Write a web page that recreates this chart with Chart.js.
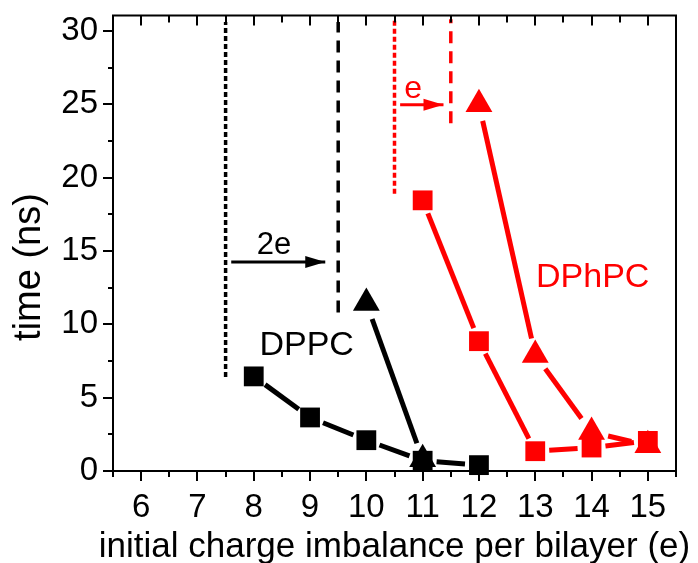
<!DOCTYPE html>
<html>
<head>
<meta charset="utf-8">
<script src="https://cdn.jsdelivr.net/npm/chart.js@4.4.0/dist/chart.umd.min.js"></script>
<style>
    html, body { margin: 0; padding: 0; background: #fff; }
    #wrap { width: 698px; height: 563px; }
</style>
</head>
<body>
<div id="wrap"><canvas id="chart" width="698" height="563"></canvas></div>
<script>
// data
const dppcSquareX = [8, 9, 10, 11, 12];
const dppcSquareY = [6.45, 3.65, 2.1, 0.7, 0.4];
const dppcTriangleX = [10, 11];
const dppcTriangleY = [11.45, 0.8];
const dphpcSquareX = [11, 12, 13, 14, 15];
const dphpcSquareY = [18.45, 8.85, 1.35, 1.6, 2.05];
const dphpcTriangleX = [12, 13, 14, 15];
const dphpcTriangleY = [25.0, 7.9, 2.65, 1.75];

const xTicks = [6, 7, 8, 9, 10, 11, 12, 13, 14, 15];
const yTicks = [0, 5, 10, 15, 20, 25, 30];

// vertical threshold lines: x, from, to
const thresholdX = [7.5, 9.5, 10.5, 11.5];
const thresholdFrom = [6.4, 10.8, 18.9, 23.7];
const thresholdTo = [30.6, 30.6, 30.8, 30.8];

// shift arrows
const arrowStartX = [7.6, 10.6];
const arrowEndX = [9.27, 11.37];
const arrowY = [14.25, 24.97];

const black = '#000000';
const red = '#ff0000';
const fontFamily = '"Liberation Sans", Arial, sans-serif';

const toPoints = (xs, ys) => xs.map((x, i) => ({x: x, y: ys[i]}));

function markerSet(label, xs, ys, color, style) {
    return {
        label: label,
        data: toPoints(xs, ys),
        showLine: false,
        pointStyle: style,
        pointRadius: style === 'rect' ? 14 : 15.5,
        pointHoverRadius: style === 'rect' ? 14 : 15.5,
        pointBackgroundColor: color,
        pointBorderWidth: 0,
        borderColor: color,
        backgroundColor: color,
        gapLine: true,
        gap: style === 'rect' ? 14 : 17,
        clip: false
    };
}

function guideSet(i, color, dash) {
    return {
        data: [{x: thresholdX[i], y: thresholdFrom[i]}, {x: thresholdX[i], y: thresholdTo[i]}],
        showLine: true,
        borderColor: color,
        borderWidth: 3.5,
        borderDash: dash,
        pointRadius: 0,
        clip: false
    };
}

function arrowSet(i, color) {
    return {
        data: [{x: arrowStartX[i], y: arrowY[i]}, {x: arrowEndX[i], y: arrowY[i]}],
        showLine: true,
        borderColor: color,
        backgroundColor: color,
        borderWidth: 3,
        pointRadius: 0,
        arrow: true,
        clip: false
    };
}

const datasets = [
    markerSet('DPPC squares', dppcSquareX, dppcSquareY, black, 'rect'),
    markerSet('DPPC triangles', dppcTriangleX, dppcTriangleY, black, 'triangle'),
    markerSet('DPhPC squares', dphpcSquareX, dphpcSquareY, red, 'rect'),
    markerSet('DPhPC triangles', dphpcTriangleX, dphpcTriangleY, red, 'triangle'),
    guideSet(0, black, [5, 3]),
    guideSet(1, black, [12, 8]),
    guideSet(2, red, [5, 3]),
    guideSet(3, red, [12, 8]),
    arrowSet(0, black),
    arrowSet(1, red)
];

const labels = [
    {text: 'DPPC', x: 8.94, y: 7.93, color: black, size: 34},
    {text: 'DPhPC', x: 14.02, y: 12.51, color: red, size: 34},
    {text: '2e', x: 8.36, y: 14.77, color: black, size: 31},
    {text: 'e', x: 10.83, y: 25.44, color: red, size: 32}
];

// connecting lines with a gap around each marker (Origin style)
const gapLines = {
    id: 'gapLines',
    beforeDatasetsDraw(chart) {
        const ctx = chart.ctx;
        chart.data.datasets.forEach((ds, di) => {
            if (!ds.gapLine) return;
            const pts = chart.getDatasetMeta(di).data;
            ctx.save();
            ctx.strokeStyle = ds.borderColor;
            ctx.lineWidth = 5;
            ctx.lineCap = 'butt';
            for (let i = 0; i < pts.length - 1; i++) {
                const a = pts[i], b = pts[i + 1];
                const dx = b.x - a.x, dy = b.y - a.y;
                const len = Math.hypot(dx, dy);
                if (len <= ds.gap * 2) continue;
                const ux = dx / len, uy = dy / len;
                ctx.beginPath();
                ctx.moveTo(a.x + ux * ds.gap, a.y + uy * ds.gap);
                ctx.lineTo(b.x - ux * ds.gap, b.y - uy * ds.gap);
                ctx.stroke();
            }
            ctx.restore();
        });
    }
};

// arrow heads, text labels, frame, ticks and axis titles
const decorations = {
    id: 'decorations',
    afterDatasetsDraw(chart) {
        const ctx = chart.ctx;
        const xs = chart.scales.x, ys = chart.scales.y;
        chart.data.datasets.forEach((ds, di) => {
            if (!ds.arrow) return;
            const pts = chart.getDatasetMeta(di).data;
            const tip = pts[pts.length - 1];
            ctx.save();
            ctx.fillStyle = ds.borderColor;
            ctx.beginPath();
            ctx.moveTo(tip.x, tip.y);
            ctx.lineTo(tip.x - 20, tip.y - 6);
            ctx.lineTo(tip.x - 20, tip.y + 6);
            ctx.closePath();
            ctx.fill();
            ctx.restore();
        });
        labels.forEach(l => {
            ctx.save();
            ctx.fillStyle = l.color;
            ctx.font = l.size + 'px ' + fontFamily;
            ctx.textAlign = 'center';
            ctx.textBaseline = 'alphabetic';
            ctx.fillText(l.text, xs.getPixelForValue(l.x), ys.getPixelForValue(l.y));
            ctx.restore();
        });
    },
    afterDraw(chart) {
        const ctx = chart.ctx;
        const a = chart.chartArea;
        const xs = chart.scales.x, ys = chart.scales.y;
        ctx.save();
        ctx.strokeStyle = black;
        ctx.lineWidth = 2;
        ctx.beginPath();
        ctx.rect(a.left, a.top, a.right - a.left, a.bottom - a.top);
        ctx.stroke();
        ctx.beginPath();
        for (let v = 5.5; v <= 15.5001; v += 0.5) {
            const px = Math.round(xs.getPixelForValue(v));
            const major = Math.abs(v - Math.round(v)) < 1e-6;
            ctx.moveTo(px, a.bottom);
            ctx.lineTo(px, a.bottom + (major ? 10 : 6));
            if (v > 5.5 && v < 15.5) {
                ctx.moveTo(px, a.top);
                ctx.lineTo(px, a.top + (major ? 10 : 7));
            }
        }
        for (let v = 0; v <= 30.0001; v += 2.5) {
            const py = Math.round(ys.getPixelForValue(v));
            const major = v % 5 === 0;
            ctx.moveTo(a.left, py);
            ctx.lineTo(a.left - (major ? 10 : 5), py);
        }
        ctx.stroke();

        ctx.fillStyle = black;
        ctx.textAlign = 'center';
        ctx.textBaseline = 'alphabetic';
        ctx.font = '35px ' + fontFamily;
        ctx.fillText('initial charge imbalance per bilayer (e)', (a.left + a.right) / 2, 557);
        ctx.translate(40, 267);
        ctx.rotate(-Math.PI / 2);
        ctx.font = '38px ' + fontFamily;
        ctx.fillText('time (ns)', 0, 0);
        ctx.restore();
    }
};

const config = {
    type: 'scatter',
    data: {datasets: datasets},
    options: {
        responsive: false,
        animation: false,
        devicePixelRatio: 1,
        layout: {padding: {top: 14, right: 22, left: 0, bottom: 0}},
        plugins: {
            legend: {display: false},
            tooltip: {enabled: false}
        },
        scales: {
            x: {
                type: 'linear',
                min: 5.5,
                max: 15.5,
                afterBuildTicks: scale => { scale.ticks = xTicks.map(v => ({value: v})); },
                afterFit: scale => {
                    scale.height = 92;
                    scale.paddingLeft = 0;
                    scale.paddingRight = 0;
                },
                grid: {display: false, drawTicks: false},
                border: {display: false},
                ticks: {
                    color: black,
                    padding: 17,
                    maxRotation: 0,
                    font: {family: fontFamily, size: 33}
                }
            },
            y: {
                type: 'linear',
                min: 0,
                max: 31.05,
                afterBuildTicks: scale => { scale.ticks = yTicks.map(v => ({value: v})); },
                afterFit: scale => {
                    scale.width = 113;
                    scale.paddingTop = 0;
                    scale.paddingBottom = 0;
                },
                grid: {display: false, drawTicks: false},
                border: {display: false},
                ticks: {
                    color: black,
                    padding: 15,
                    font: {family: fontFamily, size: 33}
                }
            }
        }
    },
    plugins: [gapLines, decorations]
};

const chart = new Chart(document.getElementById('chart'), config);
</script>
</body>
</html>
